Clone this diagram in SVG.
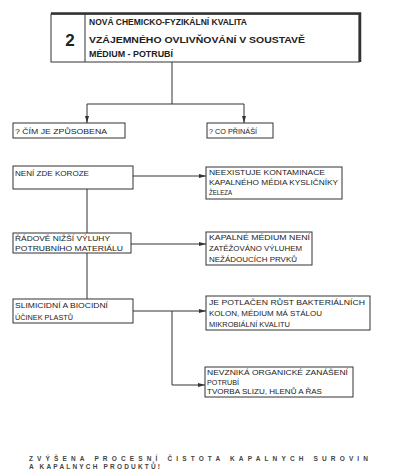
<svg xmlns="http://www.w3.org/2000/svg" width="395" height="475" viewBox="0 0 395 475">
<defs>
<marker id="arr" markerUnits="userSpaceOnUse" markerWidth="7" markerHeight="5" refX="7" refY="2.5" orient="auto">
<path d="M0,0.5 L7,2.5 L0,4.5 z" fill="#333"/>
</marker>
<style>
.box{fill:#fff;stroke:#333;stroke-width:1}
.t{font-family:"Liberation Sans",Arial,sans-serif;font-size:7.5px;fill:#222}
.h{font-family:"Liberation Sans",Arial,sans-serif;font-size:8.5px;font-weight:bold;fill:#222}
.b{font-family:"Liberation Sans",Arial,sans-serif;font-size:6.5px;font-weight:bold;fill:#444}
.c{fill:none;stroke:#333;stroke-width:1}
</style>
</defs>
<rect width="395" height="475" fill="#fff"/>
<g id="connectors">
<path class="c" d="M172,62 V104 M87,104 H244"/>
<path class="c" d="M87,104 V123" marker-end="url(#arr)"/>
<path class="c" d="M244,104 V123" marker-end="url(#arr)"/>
<path class="c" d="M133,176 H206" marker-end="url(#arr)"/>
<path class="c" d="M87,189 V233"/>
<path class="c" d="M131,244 H206" marker-end="url(#arr)"/>
<path class="c" d="M87,253 V299"/>
<path class="c" d="M133,311 H206" marker-end="url(#arr)"/>
<path class="c" d="M172,311 V385 H205" marker-end="url(#arr)"/>
</g>
<g id="top">
<rect class="box" x="51" y="14" width="308" height="48"/>
<path d="M51,13.5 H360 V62" fill="none" stroke="#333" stroke-width="2.5"/>
<line x1="85" y1="14" x2="85" y2="62" stroke="#333" stroke-width="1"/>
<text x="70" y="46" text-anchor="middle" style="font-family:'Liberation Sans',Arial,sans-serif;font-size:17px;font-weight:bold;fill:#222">2</text>
<text class="h" x="89" y="25" textLength="158" lengthAdjust="spacingAndGlyphs">NOVÁ CHEMICKO-FYZIKÁLNÍ KVALITA</text>
<text class="h" x="89" y="43" textLength="216" lengthAdjust="spacingAndGlyphs">VZÁJEMNÉHO OVLIVŇOVÁNÍ V SOUSTAVĚ</text>
<text class="h" x="89" y="57" textLength="84" lengthAdjust="spacingAndGlyphs">MÉDIUM - POTRUBÍ</text>
</g>
<g id="n-cim">
<rect class="box" x="13" y="123" width="112" height="15"/>
<text class="t" x="15" y="133.5" textLength="92" lengthAdjust="spacingAndGlyphs">? ČÍM JE ZPŮSOBENA</text>
</g>
<g id="n-co">
<rect class="box" x="207" y="123" width="66" height="15"/>
<text class="t" x="209" y="133.5" textLength="48" lengthAdjust="spacingAndGlyphs">? CO PŘINÁŠÍ</text>
</g>
<g id="n-koroze">
<rect class="box" x="13" y="166" width="120" height="23"/>
<text class="t" x="15" y="176" textLength="74" lengthAdjust="spacingAndGlyphs">NENÍ ZDE KOROZE</text>
</g>
<g id="n-kontaminace">
<rect class="box" x="206" y="167" width="136" height="32"/>
<text class="t" x="209" y="175" textLength="116" lengthAdjust="spacingAndGlyphs">NEEXISTUJE KONTAMINACE</text>
<text class="t" x="209" y="185" textLength="129" lengthAdjust="spacingAndGlyphs">KAPALNÉHO MÉDIA KYSLIČNÍKY</text>
<text class="t" x="209" y="195" textLength="23" lengthAdjust="spacingAndGlyphs">ŽELEZA</text>
</g>
<g id="n-vyluhy">
<rect class="box" x="13" y="233" width="118" height="20"/>
<text class="t" x="15" y="241" textLength="95" lengthAdjust="spacingAndGlyphs">ŘÁDOVĚ NIŽŠÍ VÝLUHY</text>
<text class="t" x="15" y="251" textLength="108" lengthAdjust="spacingAndGlyphs">POTRUBNÍHO MATERIÁLU</text>
</g>
<g id="n-kapalne">
<rect class="box" x="206" y="232" width="106" height="33"/>
<text class="t" x="209" y="240" textLength="101" lengthAdjust="spacingAndGlyphs">KAPALNÉ MÉDIUM NENÍ</text>
<text class="t" x="209" y="251" textLength="93" lengthAdjust="spacingAndGlyphs">ZATĚŽOVÁNO VÝLUHEM</text>
<text class="t" x="209" y="262" textLength="88" lengthAdjust="spacingAndGlyphs">NEŽÁDOUCÍCH PRVKŮ</text>
</g>
<g id="n-slimicidni">
<rect class="box" x="13" y="299" width="120" height="24"/>
<text class="t" x="15" y="307.5" textLength="93" lengthAdjust="spacingAndGlyphs">SLIMICIDNÍ A BIOCIDNÍ</text>
<text class="t" x="15" y="319.5" textLength="58" lengthAdjust="spacingAndGlyphs">ÚČINEK PLASTŮ</text>
</g>
<g id="n-potlacen">
<rect class="box" x="206" y="296" width="164" height="34"/>
<text class="t" x="209" y="305" textLength="156" lengthAdjust="spacingAndGlyphs">JE POTLAČEN RŮST BAKTERIÁLNÍCH</text>
<text class="t" x="209" y="316" textLength="113" lengthAdjust="spacingAndGlyphs">KOLON, MÉDIUM MÁ STÁLOU</text>
<text class="t" x="209" y="327" textLength="81" lengthAdjust="spacingAndGlyphs">MIKROBIÁLNÍ KVALITU</text>
</g>
<g id="n-nevznika">
<rect class="box" x="205" y="367" width="148" height="30"/>
<text class="t" x="207" y="375" textLength="141" lengthAdjust="spacingAndGlyphs">NEVZNIKÁ ORGANICKÉ ZANÁŠENÍ</text>
<text class="t" x="207" y="385" textLength="32" lengthAdjust="spacingAndGlyphs">POTRUBÍ</text>
<text class="t" x="207" y="394" textLength="115" lengthAdjust="spacingAndGlyphs">TVORBA SLIZU, HLENŮ A ŘAS</text>
</g>
<g id="footer">
<text class="b" x="29" y="461" textLength="339" lengthAdjust="spacing">ZVÝŠENA PROCESNÍ ČISTOTA KAPALNYCH SUROVIN</text>
<text class="b" x="29" y="469" textLength="131" lengthAdjust="spacing">A KAPALNYCH PRODUKTŮ!</text>
</g>
</svg>
